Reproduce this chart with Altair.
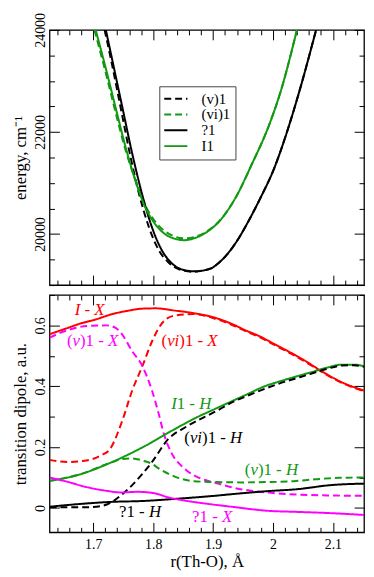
import altair as alt
import pandas as pd

FONT = "Liberation Serif"
GREEN = "#119911"
RED = "#ff0000"
MAGENTA = "#ff00ff"

# ---------------- top panel: potential curves ----------------
top_names = ["(v)1", "(vi)1", "?1", "I1"]
top_colors = ["black", GREEN, "black", GREEN]
top_dashes = [[7, 4], [7, 4], [1, 0], [1, 0]]

r_v1 = [1.719, 1.731, 1.746, 1.761, 1.777, 1.793, 1.809, 1.826, 1.843, 1.866, 1.895,
        1.911, 1.938, 1.959, 1.98, 2.0, 2.029, 2.045, 2.072]
E_v1 = [24000, 23340, 22459, 21579, 20760, 20132, 19692, 19439, 19310, 19262, 19320,
        19450, 19830, 20250, 20730, 21230, 22207, 22836, 24000]

r_vi1 = [1.702, 1.721, 1.737, 1.754, 1.771, 1.787, 1.803, 1.819, 1.835, 1.852, 1.868,
         1.884, 1.911, 1.938, 1.964, 1.994, 2.013, 2.040]
E_vi1 = [24000, 23151, 22396, 21641, 21040, 20560, 20250, 20060, 19955, 19915, 19940,
         20015, 20262, 20720, 21350, 22150, 22800, 24000]

r_phi1 = [1.721, 1.733, 1.749, 1.765, 1.782, 1.798, 1.814, 1.830, 1.846, 1.868, 1.895,
          1.911, 1.938, 1.959, 1.98, 2.0, 2.029, 2.045, 2.072]
E_phi1 = [24000, 23340, 22459, 21579, 20760, 20132, 19692, 19439, 19314, 19269, 19320,
          19450, 19830, 20250, 20730, 21230, 22207, 22836, 24000]

r_I1 = [1.704, 1.723, 1.739, 1.755, 1.771, 1.787, 1.803, 1.819, 1.835, 1.852, 1.868,
        1.884, 1.911, 1.938, 1.964, 1.994, 2.013, 2.040]
E_I1 = [24000, 23151, 22396, 21660, 21020, 20520, 20200, 20006, 19912, 19880, 19915,
        20000, 20258, 20720, 21350, 22150, 22800, 24000]

top_series = [(r_v1, E_v1), (r_vi1, E_vi1), (r_phi1, E_phi1), (r_I1, E_I1)]

# ---------------- bottom panel: transition dipoles ----------------
bot_names = ["I - X", "(vi)1 - X", "(v)1 - X", "I1 - H", "(vi)1 - H", "(v)1 - H",
             "?1 - H", "?1 - X"]
bot_colors = [RED, RED, MAGENTA, GREEN, "black", GREEN, "black", MAGENTA]
bot_dashes = [[1, 0], [7, 4], [7, 4], [1, 0], [7, 4], [7, 4], [1, 0], [1, 0]]

r_IX = [1.627, 1.655, 1.68, 1.705, 1.728, 1.755, 1.782, 1.805, 1.835, 1.865, 1.905,
        1.93, 1.954, 1.98, 2.0, 2.03, 2.05, 2.08, 2.115, 2.152]
d_IX = [0.571, 0.590, 0.607, 0.620, 0.635, 0.647, 0.655, 0.656, 0.649, 0.641, 0.624,
        0.606, 0.584, 0.562, 0.541, 0.510, 0.488, 0.451, 0.413, 0.386]

r_viX = [1.627, 1.657, 1.685, 1.712, 1.728, 1.749, 1.765, 1.782, 1.798, 1.814, 1.835,
         1.868, 1.905, 1.93, 1.954, 1.98, 2.0, 2.03, 2.05, 2.08, 2.115, 2.152]
d_viX = [0.158, 0.151, 0.155, 0.172, 0.194, 0.29, 0.386, 0.466, 0.547, 0.605, 0.632,
         0.637, 0.621, 0.603, 0.581, 0.559, 0.538, 0.507, 0.485, 0.449, 0.411, 0.384]

r_vX = [1.627, 1.657, 1.690, 1.722, 1.738, 1.749, 1.765, 1.782, 1.798, 1.809, 1.819,
        1.830, 1.852, 1.878, 1.905, 1.935, 1.989, 2.04, 2.096, 2.152]
d_vX = [0.560, 0.584, 0.598, 0.600, 0.591, 0.568, 0.515, 0.466, 0.386, 0.311, 0.236,
        0.183, 0.130, 0.098, 0.082, 0.066, 0.051, 0.044, 0.041, 0.040]

r_I1H = [1.627, 1.677, 1.728, 1.782, 1.835, 1.87, 1.905, 1.935, 1.954, 1.989, 2.008,
         2.035, 2.062, 2.09, 2.115, 2.135, 2.152]
d_I1H = [0.089, 0.110, 0.148, 0.199, 0.258, 0.295, 0.327, 0.354, 0.371, 0.402, 0.414,
         0.430, 0.445, 0.461, 0.471, 0.471, 0.466]

r_viH = [1.627, 1.685, 1.715, 1.736, 1.749, 1.765, 1.782, 1.798, 1.825, 1.857, 1.905,
         1.935, 1.954, 2.008, 2.062, 2.09, 2.115, 2.135, 2.152]
d_viH = [0.002, 0.002, 0.007, 0.026, 0.046, 0.075, 0.112, 0.151, 0.226, 0.269, 0.318,
         0.350, 0.366, 0.407, 0.440, 0.457, 0.468, 0.469, 0.464]

r_vH = [1.627, 1.677, 1.728, 1.749, 1.765, 1.782, 1.798, 1.809, 1.835, 1.868, 1.905,
        1.95, 1.989, 2.035, 2.069, 2.11, 2.152]
d_vH = [0.089, 0.110, 0.148, 0.161, 0.163, 0.156, 0.145, 0.130, 0.104, 0.088, 0.085,
        0.084, 0.085, 0.088, 0.094, 0.099, 0.100]

r_phiH = [1.627, 1.677, 1.731, 1.784, 1.838, 1.897, 1.935, 1.989, 2.042, 2.096, 2.152]
d_phiH = [0.004, 0.013, 0.020, 0.023, 0.030, 0.039, 0.046, 0.055, 0.062, 0.075, 0.080]

r_phiX = [1.627, 1.655, 1.688, 1.72, 1.747, 1.774, 1.80, 1.827, 1.86, 1.897, 1.935,
          1.989, 2.042, 2.096, 2.152]
d_phiX = [0.100, 0.087, 0.069, 0.057, 0.051, 0.053, 0.049, 0.034, 0.022, 0.012, 0.003,
          -0.009, -0.013, -0.017, -0.023]

bot_series = [(r_IX, d_IX), (r_viX, d_viX), (r_vX, d_vX), (r_I1H, d_I1H),
              (r_viH, d_viH), (r_vH, d_vH), (r_phiH, d_phiH), (r_phiX, d_phiX)]

# in-plot labels: anchor (left end, baseline) in data units, pieces (text, italic)
lab_x = [1.669, 1.656, 1.814, 1.830, 1.852, 1.953, 1.743, 1.865]
lab_y = [0.633, 0.532, 0.531, 0.325, 0.213, 0.108, -0.031, -0.045]
lab_colors = [RED, MAGENTA, RED, GREEN, "black", GREEN, "black", MAGENTA]
lab_pieces = [
    [("I", 1), (" - ", 0), ("X", 1)],
    [("(", 0), ("v", 1), (")1 - ", 0), ("X", 1)],
    [("(", 0), ("vi", 1), (")1 - ", 0), ("X", 1)],
    [("I", 1), ("1 - ", 0), ("H", 1)],
    [("(", 0), ("vi", 1), (")1 - ", 0), ("H", 1)],
    [("(", 0), ("v", 1), (")1 - ", 0), ("H", 1)],
    [("?1 - ", 0), ("H", 1)],
    [("?1 - ", 0), ("X", 1)],
]

# axis ranges and tick labels
X_DOM = [1.627, 2.152]
E_DOM = [19000, 24000]
D_DOM = [-0.08, 0.70]
x_labels = [1.7, 1.8, 1.9, 2.0, 2.1]
E_labels = [20000, 22000, 24000]
D_labels = [0, 0.2, 0.4, 0.6]
x_ticks = [round(1.64 + 0.02 * i, 2) for i in range(26)]
E_ticks = list(range(19000, 24001, 500))
D_ticks = [round(0.1 * i, 1) for i in range(8)]

# ---------------- layout ----------------
W = 318
H1 = 258
H2 = 240
FS_LAB = 14
FS_TITLE = 17
FS_TEXT = 17


def long_df(names, series):
    rows = []
    for n, (xs, ys) in zip(names, series):
        for i, (a, b) in enumerate(zip(xs, ys)):
            rows.append({"series": n, "x": a, "y": b, "i": i})
    return pd.DataFrame(rows)


df_top = long_df(top_names, top_series)
df_bot = long_df(bot_names, bot_series)

# text pieces placed from their anchors using Times-like advance widths
REG_W = {"(": .333, ")": .333, "1": .5, " ": .25, "-": .333, "?": .444, "v": .5,
         "i": .278, "X": .722, "H": .722, "I": .333}
ITA_W = {"v": .444, "i": .278, "X": .611, "H": .722, "I": .333, " ": .25}
px_per_unit = W / (X_DOM[1] - X_DOM[0])
rows = []
for lx, ly, col, pieces in zip(lab_x, lab_y, lab_colors, lab_pieces):
    cum = 0.0
    for txt, it in pieces:
        table = ITA_W if it else REG_W
        lead = len(txt) - len(txt.lstrip(" "))
        start = cum + lead * REG_W[" "] * FS_TEXT
        rows.append({"x": lx + start / px_per_unit, "y": ly, "t": txt.strip(),
                     "c": col, "it": it})
        cum += sum(table.get(ch, .5) for ch in txt) * FS_TEXT
df_lab = pd.DataFrame(rows)


def tick_axis(orient, offset, vals, test):
    return alt.Axis(orient=orient, offset=offset, values=vals, labels=False,
                    domain=False, grid=False, title=None, ticks=True,
                    tickColor="black", tickWidth=1,
                    tickSize={"condition": {"test": test, "value": 10}, "value": 5})


def tick_layers(df, xdom, ydom, yvals, ytest, H):
    xt = "abs(datum.value * 10 - round(datum.value * 10)) < 0.001"
    xs = alt.Scale(domain=xdom, nice=False, zero=False)
    ys = alt.Scale(domain=ydom, nice=False, zero=False)
    a = alt.Chart(df).mark_point(opacity=0, size=1).encode(
        x=alt.X("x:Q", scale=xs, axis=tick_axis("top", -H, x_ticks, xt)),
        y=alt.Y("y:Q", scale=ys, axis=tick_axis("right", -W, yvals, ytest)),
    )
    b = alt.Chart(df).mark_point(opacity=0, size=1).encode(
        x=alt.X("x:Q", scale=xs, axis=tick_axis("bottom", -H, x_ticks, xt)),
        y=alt.Y("y:Q", scale=ys, axis=tick_axis("left", -W, yvals, ytest)),
    )
    return a, b


def y_label_axis(vals, title, H, fmt):
    return alt.Axis(orient="left", values=vals, format=fmt, ticks=False, tickSize=0,
                    domain=False, grid=False, labelFlush=False, labelOverlap=False,
                    labelAngle=270, labelAlign="center", labelBaseline="alphabetic",
                    labelPadding=5, labelFont=FONT, labelFontSize=FS_LAB,
                    labelColor="black", title=title, titleFont=FONT,
                    titleFontSize=FS_TITLE, titleFontWeight="normal",
                    titleColor="black", titleAngle=270, titleAlign="center",
                    titleBaseline="alphabetic", titleX=-24, titleY=H / 2)


# ---------------- top chart ----------------
leg = alt.Legend(title=None, orient="none", legendX=111, legendY=57,
                 symbolType="M-1.8,0H1.8", symbolSize=169, symbolStrokeWidth=2,
                 symbolOffset=4.2, labelOffset=18.4, labelFont=FONT,
                 labelFontSize=15, labelColor="black", rowPadding=0,
                 padding=5, strokeColor="#444", fillColor="white")

top_lines = alt.Chart(df_top).mark_line(strokeWidth=2, clip=True,
                                        interpolate="monotone").encode(
    x=alt.X("x:Q", scale=alt.Scale(domain=X_DOM, nice=False, zero=False), axis=None),
    y=alt.Y("y:Q", scale=alt.Scale(domain=E_DOM, nice=False, zero=False),
            axis=y_label_axis(E_labels, "energy, cm⁻¹", H1, "d")),
    color=alt.Color("series:N", scale=alt.Scale(domain=top_names, range=top_colors),
                    legend=leg),
    strokeDash=alt.StrokeDash("series:N",
                              scale=alt.Scale(domain=top_names, range=top_dashes),
                              legend=leg),
    order="i:Q",
)
ta, tb = tick_layers(df_top, X_DOM, E_DOM, E_ticks, "datum.value % 2000 == 0", H1)
top = alt.layer(top_lines, ta, tb).resolve_axis(
    x="independent", y="independent").properties(width=W, height=H1)

# ---------------- bottom chart ----------------
bot_lines = alt.Chart(df_bot).mark_line(strokeWidth=2, clip=True,
                                        interpolate="monotone").encode(
    x=alt.X("x:Q", scale=alt.Scale(domain=X_DOM, nice=False, zero=False),
            axis=alt.Axis(orient="bottom", values=x_labels, format="~g", ticks=False,
                          tickSize=0, domain=False, grid=False, labelFlush=False,
                          labelOverlap=False, labelPadding=5, labelFont=FONT,
                          labelFontSize=FS_LAB, labelColor="black",
                          title="r(Th-O), Å", titleFont=FONT, titleFontSize=FS_TITLE,
                          titleFontWeight="normal", titleColor="black",
                          titleBaseline="alphabetic", titleX=W / 2, titleY=35)),
    y=alt.Y("y:Q", scale=alt.Scale(domain=D_DOM, nice=False, zero=False),
            axis=y_label_axis(D_labels, "transition dipole, a.u.", H2, "~g")),
    color=alt.Color("series:N", scale=alt.Scale(domain=bot_names, range=bot_colors),
                    legend=None),
    strokeDash=alt.StrokeDash("series:N",
                              scale=alt.Scale(domain=bot_names, range=bot_dashes),
                              legend=None),
    order="i:Q",
)


def text_layer(italic):
    return alt.Chart(df_lab).transform_filter(
        f"datum.it == {1 if italic else 0}"
    ).mark_text(align="left", baseline="alphabetic", font=FONT, fontSize=FS_TEXT,
                fontStyle="italic" if italic else "normal").encode(
        x=alt.X("x:Q", scale=alt.Scale(domain=X_DOM, nice=False, zero=False), axis=None),
        y=alt.Y("y:Q", scale=alt.Scale(domain=D_DOM, nice=False, zero=False), axis=None),
        text="t:N",
        color=alt.Color("c:N", scale=None),
    )


ba, bb = tick_layers(df_bot, X_DOM, D_DOM, D_ticks,
                     "abs(datum.value * 5 - round(datum.value * 5)) < 0.001", H2)
bottom = alt.layer(bot_lines, text_layer(False), text_layer(True), ba, bb).resolve_axis(
    x="independent", y="independent").properties(width=W, height=H2)

chart = alt.vconcat(top, bottom, spacing=6).resolve_scale(
    x="independent", y="independent", color="independent", strokeDash="independent"
).properties(
    padding={"left": 3, "top": 0, "right": 0, "bottom": 0}
).configure_view(stroke="black", strokeWidth=1.3)

chart.save("out.html", embed_options={"renderer": "svg", "actions": False})
